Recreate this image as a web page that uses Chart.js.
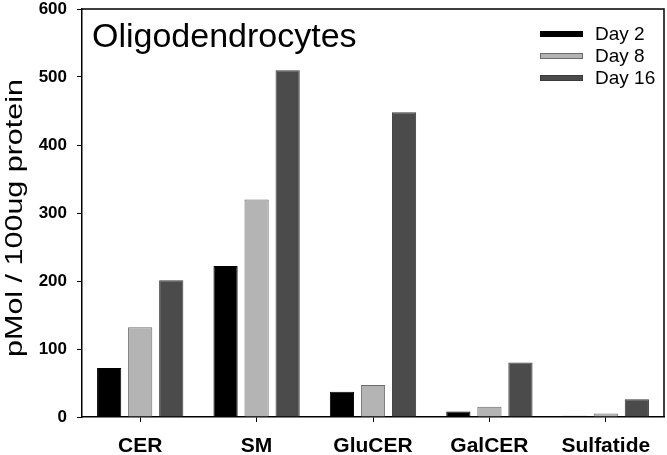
<!DOCTYPE html>
<html>
<head>
<meta charset="utf-8">
<script src="https://cdn.jsdelivr.net/npm/chart.js@4"></script>
<style>
    html, body { margin: 0; padding: 0; background: #fff; }
    #wrap { width: 667px; height: 455px; }
</style>
</head>
<body>
<div id="wrap"><canvas id="chart" width="667" height="455"></canvas></div>
<script>
const categories = ['CER', 'SM', 'GluCER', 'GalCER', 'Sulfatide'];
const day2 = [72, 222, 37, 8, 2];
const day8 = [132, 320, 47, 15, 5];
const day16 = [201, 510, 448, 80, 26];
const yTicks = [0, 100, 200, 300, 400, 500, 600];

const chartTitle = 'Oligodendrocytes';
const yTitle = 'pMol / 100ug protein';
const FONT = '"Liberation Sans", Arial, sans-serif';

// frame, inner title, legend and y-axis title
const decorations = {
    id: 'decorations',
    afterDraw(chart) {
        const ctx = chart.ctx;
        const area = chart.chartArea;
        ctx.save();

        ctx.strokeStyle = '#000';
        ctx.lineWidth = 1.5;
        ctx.beginPath();
        ctx.moveTo(area.left, area.top);
        ctx.lineTo(area.right, area.top);
        ctx.lineTo(area.right, area.bottom);
        ctx.stroke();

        ctx.fillStyle = '#000';
        ctx.font = '34px ' + FONT;
        ctx.textBaseline = 'alphabetic';
        ctx.textAlign = 'left';
        ctx.fillText(chartTitle, 92, 47);

        // legend
        ctx.font = '19px ' + FONT;
        ctx.textBaseline = 'middle';
        chart.data.datasets.forEach((ds, i) => {
            const y = 34 + i * 22;
            ctx.fillStyle = ds.backgroundColor;
            ctx.fillRect(540, y - 3, 43, 6);
            if (ds.borderColor && ds.borderColor !== ds.backgroundColor) {
                ctx.strokeStyle = ds.borderColor;
                ctx.lineWidth = 1;
                ctx.strokeRect(540.5, y - 2.5, 42, 5);
            }
            ctx.fillStyle = '#000';
            ctx.fillText(ds.label, 595, y + 1);
        });

        // y axis title, stretched along its length like the original
        ctx.translate(15, 218);
        ctx.rotate(-Math.PI / 2);
        ctx.scale(1.27, 1);
        ctx.font = '24px ' + FONT;
        ctx.textAlign = 'center';
        ctx.textBaseline = 'middle';
        ctx.fillStyle = '#000';
        ctx.fillText(yTitle, 0, 0);
        ctx.restore();
    }
};

new Chart(document.getElementById('chart').getContext('2d'), {
    type: 'bar',
    data: {
        labels: categories,
        datasets: [
            { label: 'Day 2', data: day2, backgroundColor: '#000000', borderColor: '#000000', borderWidth: 1 },
            { label: 'Day 8', data: day8, backgroundColor: '#b4b4b4', borderColor: '#6a6a6a', borderWidth: 1 },
            { label: 'Day 16', data: day16, backgroundColor: '#4b4b4b', borderColor: '#3a3a3a', borderWidth: 1 }
        ]
    },
    options: {
        responsive: false,
        animation: false,
        layout: { padding: { top: 0, right: 3, left: 0, bottom: 0 } },
        datasets: {
            bar: { categoryPercentage: 0.8, barPercentage: 0.78 }
        },
        plugins: {
            legend: { display: false },
            tooltip: { enabled: false }
        },
        scales: {
            x: {
                afterFit: function (scale) { scale.height = 38; },
                grid: {
                    offset: false,
                    drawOnChartArea: false,
                    drawTicks: true,
                    tickLength: 5,
                    color: '#000'
                },
                border: { display: true, color: '#000', width: 1.5 },
                ticks: {
                    color: '#000',
                    padding: 12,
                    font: { family: FONT, size: 21, weight: 'bold' }
                }
            },
            y: {
                min: 0,
                max: 600,
                afterFit: function (scale) {
                    scale.width = 82;
                    scale.paddingTop = 9;
                    scale.paddingBottom = 0;
                },
                afterBuildTicks: function (scale) {
                    scale.ticks = yTicks.map(v => ({ value: v }));
                },
                grid: {
                    drawOnChartArea: false,
                    drawTicks: true,
                    tickLength: 5,
                    color: '#000'
                },
                border: { display: true, color: '#000', width: 1.5 },
                ticks: {
                    color: '#000',
                    padding: 10,
                    font: { family: FONT, size: 17, weight: 'bold' }
                }
            }
        }
    },
    plugins: [decorations]
});
</script>
</body>
</html>
